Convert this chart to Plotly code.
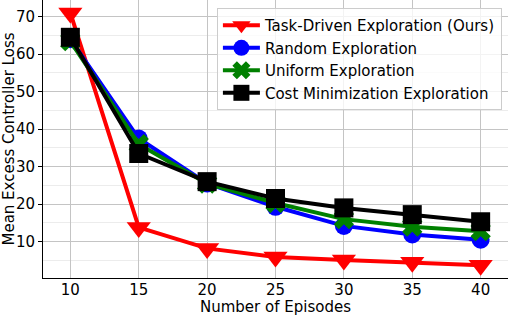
import plotly.graph_objects as go

episodes = [10, 15, 20, 25, 30, 35, 40]
task_driven = [71.0, 13.8, 8.2, 5.9, 5.1, 4.5, 3.7]
random_expl = [64.0, 37.5, 25.5, 19.3, 14.2, 11.9, 10.5]
uniform_expl = [63.5, 36.0, 25.5, 20.3, 16.0, 14.0, 12.8]
cost_min_expl = [64.5, 33.5, 26.0, 21.5, 19.0, 17.2, 15.3]
y_ticks = [10, 20, 30, 40, 50, 60, 70]

series = [
    ("Task-Driven Exploration (Ours)", task_driven, "red", "triangle-down", 21),
    ("Random Exploration", random_expl, "blue", "circle", 18),
    ("Uniform Exploration", uniform_expl, "green", "x", 18),
    ("Cost Minimization Exploration", cost_min_expl, "black", "square", 19),
]

fig = go.Figure()
for name, vals, color, sym, size in series:
    fig.add_trace(go.Scatter(
        x=episodes, y=vals, name=name, mode="lines+markers",
        line=dict(color=color, width=4),
        marker=dict(symbol=sym, size=size, color=color, line=dict(width=0)),
    ))

font = dict(family="DejaVu Sans", size=15, color="black")
fig.update_layout(
    width=508, height=316,
    margin=dict(l=43, r=0, t=0, b=38),
    paper_bgcolor="white", plot_bgcolor="white",
    font=font,
    legend=dict(
        x=0.374, y=0.971, xanchor="left", yanchor="top",
        bgcolor="rgba(255,255,255,0.8)", bordercolor="#cccccc", borderwidth=1,
        font=font, itemwidth=37,
    ),
    xaxis=dict(
        range=[8.0, 42.0], tickvals=episodes, ticks="", ticklabelstandoff=-2,
        showline=True, linecolor="black", linewidth=1,
        showgrid=True, gridcolor="#c4c4c4", gridwidth=1, zeroline=False,
        title=dict(text="Number of Episodes", font=font, standoff=0),
        automargin=False,
    ),
    yaxis=dict(
        range=[0.3, 74.45], tickvals=y_ticks, ticks="outside",
        ticklen=4, tickcolor="black", showline=True, linecolor="black", linewidth=1,
        showgrid=True, gridcolor="#c4c4c4", gridwidth=1, zeroline=False,
        minor=dict(tickvals=[5, 15, 25, 35, 45, 55, 65], showgrid=True,
                   gridcolor="#ececec", gridwidth=1, ticks=""),
        title=dict(text="Mean Excess Controller Loss", font=font, standoff=2),
        automargin=False,
    ),
)
fig.write_html("out.html", config={"displayModeBar": False},
               post_script="document.body.style.margin='0';")
